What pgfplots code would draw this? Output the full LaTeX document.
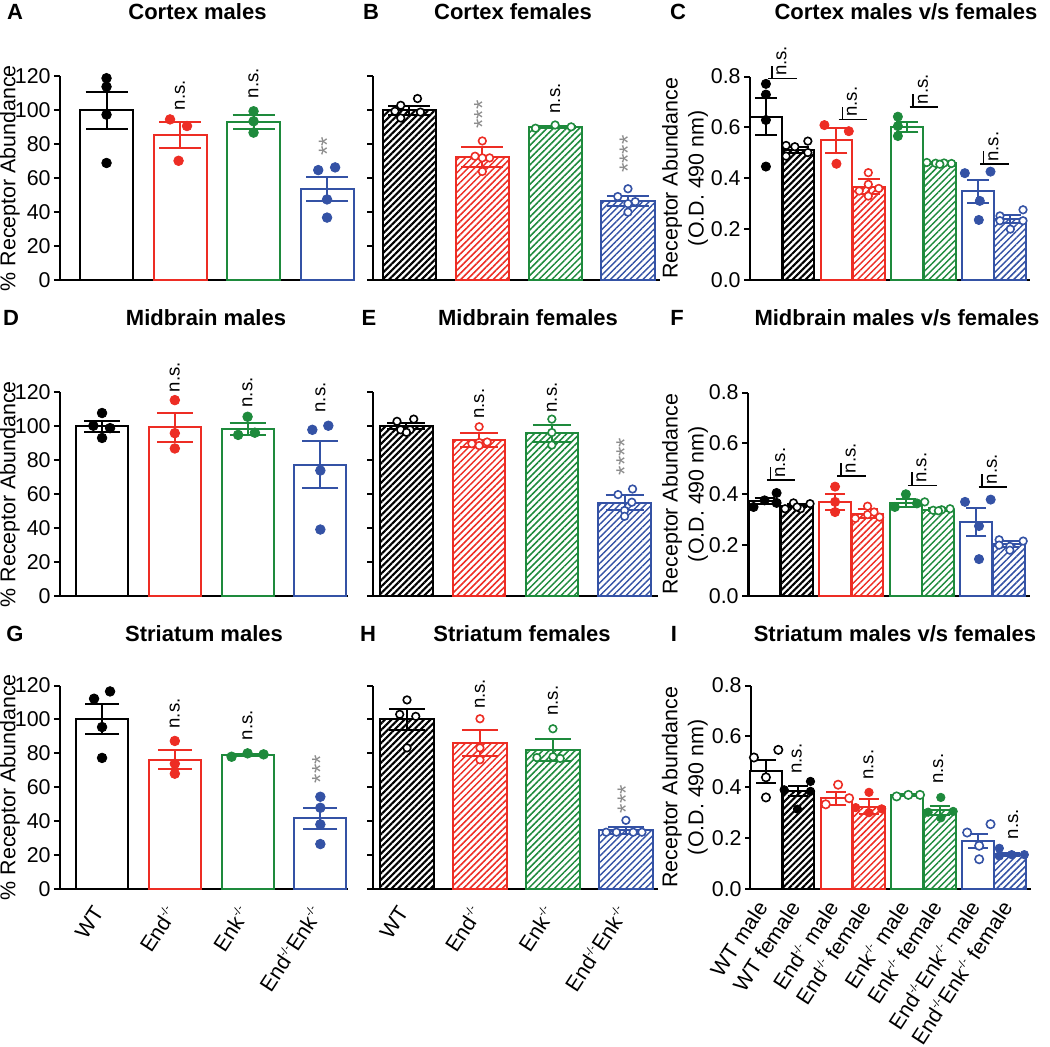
\documentclass[border=0pt]{standalone}
\usepackage{pgfplots}
\pgfplotsset{compat=1.18}
\usepackage{fontspec}
\setmainfont{Liberation Sans}
\usetikzlibrary{patterns.meta}
\definecolor{cred}{RGB}{237,45,36}
\definecolor{cgreen}{RGB}{30,138,60}
\definecolor{cblue}{RGB}{52,82,165}
\definecolor{cgrey}{RGB}{140,140,140}
\newcommand\tf{\fontsize{10.7}{13}\selectfont}
\newcommand\nsf{\fontsize{9.3}{11}\selectfont}
\newcommand\ttl{\fontsize{11}{13}\selectfont\bfseries}
\newcommand\ko{\raisebox{0.75ex}{\fontsize{5.5}{6}\selectfont -/-}}
\tikzset{
 ns/.style={rotate=90, anchor=west, inner sep=0pt, font=\nsf},
 ast/.style={rotate=90, anchor=west, inner sep=0pt, font=\fontsize{12}{14}\selectfont, text=cgrey},
}
\pgfplotsset{
 panel/.style={scale only axis, axis lines=left, axis line style={line width=1pt,-}, clip=false, ymin=0,
   height=101.75pt, anchor=south west, tick align=outside, major tick length=3pt,
   ytick style={line width=1pt,black}, xtick=\empty, xtick style={draw=none},
   tick label style={font=\tf}, yticklabel style={inner sep=1.5pt},
   /pgf/number format/assume math mode=true, label style={font=\tf}},
 pct/.style={panel, ymax=120, ytick={0,20,40,60,80,100,120}},
 pctlab/.style={ylabel={\% Receptor Abundance}, ylabel style={at={(axis description cs:#1,0.5)}, anchor=center}},
 od/.style={panel, ymax=0.8, ytick={0,0.2,0.4,0.6,0.8},
   yticklabel style={/pgf/number format/.cd, fixed, fixed zerofill, precision=1},
   ylabel={Receptor Abundance\\(O.D. 490 nm)},
   ylabel style={at={(axis description cs:#1,0.5)}, anchor=center, align=center}},
 mbar/.style={ybar, bar shift=0pt, draw=#1, fill=white, line width=1pt, forget plot},
 fbar/.style={ybar, bar shift=0pt, draw=#1, line width=1pt, pattern={Lines[angle=45,distance=2.3pt,line width=0.75pt]}, pattern color=#1, forget plot},
 kbar/.style={ybar, bar shift=0pt, draw=black, line width=1pt, pattern={Lines[angle=45,distance=2.3pt,line width=1.05pt]}, pattern color=black, forget plot},
 errb/.style 2 args={draw=none, mark=none, forget plot, error bars/.cd, y dir=both, y explicit,
   error bar style={draw=#1, line width=1pt, solid}, error mark options={draw=#1, rotate=90, mark size=#2, line width=1pt}},
 fpt/.style 2 args={only marks, mark=*, mark size=#2, color=#1, forget plot},
 opt/.style 2 args={only marks, mark=*, mark size=#2, mark options={draw=#1, fill=white, line width=0.8pt}, forget plot},
}
\begin{document}
\begin{tikzpicture}
\useasboundingbox (0,0) rectangle (525pt,523pt);

% ---------------- A ----------------
\begin{axis}[pct, pctlab=-0.17, at={(30pt,383pt)}, width=147.5pt, xmin=-0.633, xmax=3.38, bar width=0.72]
\addplot[mbar=black] coordinates {(0,100)};
\addplot[mbar=cred] coordinates {(1,85.3)};
\addplot[mbar=cgreen] coordinates {(2,93)};
\addplot[mbar=cblue] coordinates {(3,53.6)};
\addplot[errb={black}{10.5pt}] coordinates {(0,100) +- (0,11)};
\addplot[errb={cred}{10.5pt}] coordinates {(1,85.3) +- (0,7.7)};
\addplot[errb={cgreen}{10.5pt}] coordinates {(2,93) +- (0,4)};
\addplot[errb={cblue}{10.5pt}] coordinates {(3,53.6) +- (0,7)};
\addplot[fpt={black}{2.4pt}] coordinates {(0,119) (0,114) (0,97.5) (0,69)};
\addplot[fpt={cred}{2.4pt}] coordinates {(0.864,94.7) (1.095,90.8) (0.98,70.3)};
\addplot[fpt={cgreen}{2.4pt}] coordinates {(2,99.5) (2,93.6) (2,86.9)};
\addplot[fpt={cblue}{2.4pt}] coordinates {(2.88,64.8) (3.11,66.4) (3,47.5) (3,36.8)};
\node[ns] at (axis cs:1,100) {n.s.};
\node[ns] at (axis cs:2,107) {n.s.};
\node[ast] at (axis cs:3,73) {**};
\end{axis}

% ---------------- B ----------------
\begin{axis}[pct, at={(186.65pt,383pt)}, width=143.35pt, xmin=-0.497, xmax=3.44, bar width=0.73, yticklabels={}]
\addplot[kbar] coordinates {(0,100)};
\addplot[fbar=cred] coordinates {(1,72.6)};
\addplot[fbar=cgreen] coordinates {(2,90)};
\addplot[fbar=cblue] coordinates {(3,46.6)};
\addplot[errb={black}{10.5pt}] coordinates {(0,100) +- (0,2.5)};
\addplot[errb={cred}{10.5pt}] coordinates {(1,72.6) +- (0,6)};
\addplot[errb={cgreen}{10.5pt}] coordinates {(2,90) +- (0,0.6)};
\addplot[errb={cblue}{10.5pt}] coordinates {(3,46.6) +- (0,3)};
\addplot[opt={black}{1.9pt}] coordinates {(-0.12,103) (0.11,107) (-0.2,99.5) (0.15,99) (-0.12,95.5)};
\addplot[opt={cred}{1.9pt}] coordinates {(1,82) (0.9,73) (1.1,72) (1,72) (1,64)};
\addplot[opt={cgreen}{1.9pt}] coordinates {(1.73,89.5) (2,91.4) (2.22,90.3)};
\addplot[opt={cblue}{1.9pt}] coordinates {(3,53.8) (2.86,49.2) (3.1,46.2) (3,45) (3,40)};
\node[ast] at (axis cs:1,89) {***};
\node[ns] at (axis cs:2,98) {n.s.};
\node[ast] at (axis cs:3,63) {****};
\end{axis}

% ---------------- C ----------------
\begin{axis}[od=-0.232, at={(375pt,383pt)}, width=140pt, xmin=-0.49, xmax=8.125, bar width=0.98]
\addplot[mbar=black] coordinates {(0,0.642)};
\addplot[kbar] coordinates {(1,0.511)};
\addplot[mbar=cred] coordinates {(2.17,0.55)};
\addplot[fbar=cred] coordinates {(3.17,0.367)};
\addplot[mbar=cgreen] coordinates {(4.35,0.603)};
\addplot[fbar=cgreen] coordinates {(5.35,0.459)};
\addplot[mbar=cblue] coordinates {(6.52,0.348)};
\addplot[fbar=cblue] coordinates {(7.52,0.24)};
\addplot[errb={black}{5.5pt}] coordinates {(0,0.642) +- (0,0.072) (1,0.511) +- (0,0.012)};
\addplot[errb={cred}{5.5pt}] coordinates {(2.17,0.55) +- (0,0.049) (3.17,0.367) +- (0,0.029)};
\addplot[errb={cgreen}{5.5pt}] coordinates {(4.35,0.603) +- (0,0.02) (5.35,0.459) +- (0,0.003)};
\addplot[errb={cblue}{5.5pt}] coordinates {(6.52,0.348) +- (0,0.045) (7.52,0.24) +- (0,0.014)};
\addplot[fpt={black}{2.3pt}] coordinates {(0,0.771) (0,0.729) (0,0.629) (0,0.446)};
\addplot[fpt={cred}{2.3pt}] coordinates {(1.8,0.609) (2.55,0.585) (2.17,0.457)};
\addplot[fpt={cgreen}{2.3pt}] coordinates {(4.06,0.642) (4.06,0.605) (4.06,0.566)};
\addplot[fpt={cblue}{2.3pt}] coordinates {(6.12,0.42) (6.91,0.426) (6.58,0.311) (6.55,0.236)};
\addplot[opt={black}{1.9pt}] coordinates {(0.62,0.529) (0.89,0.524) (1.29,0.546) (0.62,0.487) (1.29,0.501)};
\addplot[opt={cred}{1.9pt}] coordinates {(3.15,0.422) (3.15,0.376) (3.15,0.33) (3.47,0.36) (2.87,0.35)};
\addplot[opt={cgreen}{1.9pt}] coordinates {(4.95,0.462) (5.22,0.459) (5.48,0.46) (5.71,0.458) (5.35,0.455)};
\addplot[opt={cblue}{1.9pt}] coordinates {(7.2,0.252) (7.91,0.276) (7.2,0.233) (7.91,0.233) (7.52,0.2)};
\draw[line width=0.8pt] (axis cs:0.07,0.792) -- (axis cs:0.95,0.792) (axis cs:0.18,0.792) -- (axis cs:0.18,0.843);
\node[ns] at (axis cs:0.48,0.801) {n.s.};
\draw[line width=0.8pt] (axis cs:2.24,0.631) -- (axis cs:3.12,0.631) (axis cs:2.35,0.631) -- (axis cs:2.35,0.682);
\node[ns] at (axis cs:2.65,0.640) {n.s.};
\draw[line width=0.8pt] (axis cs:4.42,0.681) -- (axis cs:5.30,0.681) (axis cs:4.53,0.681) -- (axis cs:4.53,0.732);
\node[ns] at (axis cs:4.83,0.690) {n.s.};
\draw[line width=0.8pt] (axis cs:6.59,0.455) -- (axis cs:7.47,0.455) (axis cs:6.70,0.455) -- (axis cs:6.70,0.506);
\node[ns] at (axis cs:7.0,0.464) {n.s.};
\end{axis}

% ---------------- D ----------------
\begin{axis}[pct, pctlab=-0.174, at={(30pt,225pt)}, width=144pt, xmin=-0.578, xmax=3.38, bar width=0.715]
\addplot[mbar=black] coordinates {(0,100)};
\addplot[mbar=cred] coordinates {(1,99.5)};
\addplot[mbar=cgreen] coordinates {(2,98.5)};
\addplot[mbar=cblue] coordinates {(3,77.5)};
\addplot[errb={black}{9pt}] coordinates {(0,100) +- (0,3)};
\addplot[errb={cred}{9pt}] coordinates {(1,99.5) +- (0,8.5)};
\addplot[errb={cgreen}{9pt}] coordinates {(2,98.5) +- (0,3.5)};
\addplot[errb={cblue}{9pt}] coordinates {(3,77.5) +- (0,14)};
\addplot[fpt={black}{2.4pt}] coordinates {(0,107.9) (-0.12,100.4) (0.11,99) (0,93.2)};
\addplot[fpt={cred}{2.4pt}] coordinates {(1,115.5) (1,96) (1,87)};
\addplot[fpt={cgreen}{2.4pt}] coordinates {(2,105.7) (1.87,95) (2.1,96.3)};
\addplot[fpt={cblue}{2.4pt}] coordinates {(2.89,98) (3.11,100.4) (3,74) (3,39.2)};
\node[ns] at (axis cs:1,120) {n.s.};
\node[ns] at (axis cs:2,111) {n.s.};
\node[ns] at (axis cs:3,108) {n.s.};
\end{axis}

% ---------------- E ----------------
\begin{axis}[pct, at={(186.5pt,225pt)}, width=142.5pt, xmin=-0.46, xmax=3.46, bar width=0.72, yticklabels={}]
\addplot[kbar] coordinates {(0,100)};
\addplot[fbar=cred] coordinates {(1,92)};
\addplot[fbar=cgreen] coordinates {(2,96.1)};
\addplot[fbar=cblue] coordinates {(3,55.1)};
\addplot[errb={black}{9.5pt}] coordinates {(0,100) +- (0,1.8)};
\addplot[errb={cred}{9.5pt}] coordinates {(1,92) +- (0,4)};
\addplot[errb={cgreen}{9.5pt}] coordinates {(2,96.1) +- (0,5)};
\addplot[errb={cblue}{9.5pt}] coordinates {(3,55.1) +- (0,4.5)};
\addplot[opt={black}{1.9pt}] coordinates {(-0.13,103) (0.1,104.3) (-0.08,98) (0.05,98) (0,96.5)};
\addplot[opt={cred}{1.9pt}] coordinates {(1,99.8) (0.9,89.8) (1.11,90.8) (1,90.5) (1,88.7)};
\addplot[opt={cgreen}{1.9pt}] coordinates {(2,104.3) (2,96.4) (2,89)};
\addplot[opt={cblue}{1.9pt}] coordinates {(3.11,63.1) (2.91,59.8) (3.1,55.3) (3,50.4) (3,47)};
\node[ns] at (axis cs:1,104.4) {n.s.};
\node[ns] at (axis cs:2,108) {n.s.};
\node[ast] at (axis cs:3,71) {****};
\end{axis}

% ---------------- F ----------------
\begin{axis}[od=-0.223, at={(374pt,225pt)}, width=141pt, xmin=-0.51, xmax=8.17, bar width=0.98]
\addplot[mbar=black] coordinates {(0,0.374)};
\addplot[kbar] coordinates {(1,0.354)};
\addplot[mbar=cred] coordinates {(2.17,0.37)};
\addplot[fbar=cred] coordinates {(3.17,0.324)};
\addplot[mbar=cgreen] coordinates {(4.35,0.364)};
\addplot[fbar=cgreen] coordinates {(5.35,0.34)};
\addplot[mbar=cblue] coordinates {(6.52,0.289)};
\addplot[fbar=cblue] coordinates {(7.52,0.203)};
\addplot[errb={black}{5pt}] coordinates {(0,0.374) +- (0,0.012) (1,0.354) +- (0,0.006)};
\addplot[errb={cred}{5pt}] coordinates {(2.17,0.37) +- (0,0.032) (3.17,0.324) +- (0,0.019)};
\addplot[errb={cgreen}{5pt}] coordinates {(4.35,0.364) +- (0,0.016) (5.35,0.34) +- (0,0.006)};
\addplot[errb={cblue}{5pt}] coordinates {(6.52,0.289) +- (0,0.055) (7.52,0.203) +- (0,0.012)};
\addplot[fpt={black}{2.3pt}] coordinates {(-0.34,0.35) (0,0.376) (0.37,0.405) (0.37,0.366)};
\addplot[fpt={cred}{2.3pt}] coordinates {(2.17,0.43) (2.17,0.37) (2.17,0.33)};
\addplot[fpt={cgreen}{2.3pt}] coordinates {(4.01,0.35) (4.35,0.4) (4.69,0.364)};
\addplot[fpt={cblue}{2.3pt}] coordinates {(6.17,0.37) (6.96,0.379) (6.6,0.275) (6.6,0.145)};
\addplot[opt={black}{1.9pt}] coordinates {(0.89,0.366) (0.63,0.343) (1.11,0.343) (1.4,0.363) (1,0.35)};
\addplot[opt={cred}{1.9pt}] coordinates {(3.17,0.353) (2.79,0.305) (3.54,0.31) (3.17,0.32) (3.37,0.33)};
\addplot[opt={cgreen}{1.9pt}] coordinates {(4.93,0.37) (5.45,0.339) (5.71,0.343) (5.19,0.337) (5.35,0.335)};
\addplot[opt={cblue}{1.9pt}] coordinates {(7.22,0.221) (7.96,0.216) (7.22,0.2) (7.55,0.195) (7.55,0.18)};
\draw[line width=0.8pt] (axis cs:0.07,0.455) -- (axis cs:0.95,0.455) (axis cs:0.18,0.455) -- (axis cs:0.18,0.506);
\node[ns] at (axis cs:0.48,0.464) {n.s.};
\draw[line width=0.8pt] (axis cs:2.24,0.472) -- (axis cs:3.12,0.472) (axis cs:2.35,0.472) -- (axis cs:2.35,0.523);
\node[ns] at (axis cs:2.65,0.481) {n.s.};
\draw[line width=0.8pt] (axis cs:4.42,0.435) -- (axis cs:5.30,0.435) (axis cs:4.53,0.435) -- (axis cs:4.53,0.486);
\node[ns] at (axis cs:4.83,0.444) {n.s.};
\draw[line width=0.8pt] (axis cs:6.59,0.429) -- (axis cs:7.47,0.429) (axis cs:6.70,0.429) -- (axis cs:6.70,0.48);
\node[ns] at (axis cs:7.0,0.438) {n.s.};
\end{axis}

% ---------------- G ----------------
\begin{axis}[pct, pctlab=-0.174, at={(30pt,78.5pt)}, width=144pt, xmin=-0.578, xmax=3.38, bar width=0.715,
  xtick={0,1,2,3}, xticklabels={WT,End\ko,Enk\ko,End\ko Enk\ko},
  xticklabel style={rotate=57, anchor=east}, xticklabel shift=4pt]
\addplot[mbar=black] coordinates {(0,100)};
\addplot[mbar=cred] coordinates {(1,76.3)};
\addplot[mbar=cgreen] coordinates {(2,78.8)};
\addplot[mbar=cblue] coordinates {(3,41.6)};
\addplot[errb={black}{8.5pt}] coordinates {(0,100) +- (0,8.8)};
\addplot[errb={cred}{8.5pt}] coordinates {(1,76.3) +- (0,5.6)};
\addplot[errb={cgreen}{8.5pt}] coordinates {(2,78.8) +- (0,0.6)};
\addplot[errb={cblue}{8.5pt}] coordinates {(3,41.6) +- (0,6)};
\addplot[fpt={black}{2.4pt}] coordinates {(-0.11,112.2) (0.11,116.5) (0,95.5) (0,77.3)};
\addplot[fpt={cred}{2.4pt}] coordinates {(1,87.3) (1,73.9) (1,68)};
\addplot[fpt={cgreen}{2.4pt}] coordinates {(1.78,78) (2,80) (2.22,79.4)};
\addplot[fpt={cblue}{2.4pt}] coordinates {(3,54.4) (3,47.9) (3,38.1) (3,26.5)};
\node[ns] at (axis cs:1,94.5) {n.s.};
\node[ns] at (axis cs:2,87.6) {n.s.};
\node[ast] at (axis cs:3,62.2) {***};
\end{axis}

% ---------------- H ----------------
\begin{axis}[pct, at={(186.5pt,78.5pt)}, width=142.5pt, xmin=-0.466, xmax=3.44, bar width=0.73, yticklabels={},
  xtick={0,1,2,3}, xticklabels={WT,End\ko,Enk\ko,End\ko Enk\ko},
  xticklabel style={rotate=57, anchor=east}, xticklabel shift=4pt]
\addplot[kbar] coordinates {(0,100)};
\addplot[fbar=cred] coordinates {(1,86.1)};
\addplot[fbar=cgreen] coordinates {(2,82.1)};
\addplot[fbar=cblue] coordinates {(3,34.5)};
\addplot[errb={black}{9pt}] coordinates {(0,100) +- (0,6)};
\addplot[errb={cred}{9pt}] coordinates {(1,86.1) +- (0,7.4)};
\addplot[errb={cgreen}{9pt}] coordinates {(2,82.1) +- (0,6.4)};
\addplot[errb={cblue}{9pt}] coordinates {(3,34.5) +- (0,2)};
\addplot[opt={black}{1.9pt}] coordinates {(0,111.5) (-0.1,103) (0.12,101.8) (0,83.2)};
\addplot[opt={cred}{1.9pt}] coordinates {(1,100.4) (1,83.2) (1,76.2)};
\addplot[opt={cgreen}{1.9pt}] coordinates {(2,94.5) (1.78,77.5) (2,78) (2.1,77)};
\addplot[opt={cblue}{1.9pt}] coordinates {(3,40.5) (2.73,33.5) (2.87,33.5) (3.1,33.5) (3.22,33.5)};
\node[ns] at (axis cs:1,106) {n.s.};
\node[ns] at (axis cs:2,101.9) {n.s.};
\node[ast] at (axis cs:3,44.5) {***};
\end{axis}

% ---------------- I ----------------
\begin{axis}[od=-0.236, at={(375.5pt,78.5pt)}, width=140pt, xmin=-0.46, xmax=8.155, bar width=0.98,
  xtick={0,1,2.17,3.17,4.35,5.35,6.52,7.52},
  xticklabels={WT male,WT female,End\ko{} male,End\ko{} female,Enk\ko{} male,Enk\ko{} female,End\ko Enk\ko{} male,End\ko Enk\ko{} female},
  xticklabel style={rotate=57, anchor=east}, xticklabel shift=1pt]
\addplot[mbar=black] coordinates {(0,0.462)};
\addplot[kbar] coordinates {(1,0.385)};
\addplot[mbar=cred] coordinates {(2.17,0.356)};
\addplot[fbar=cred] coordinates {(3.17,0.324)};
\addplot[mbar=cgreen] coordinates {(4.35,0.37)};
\addplot[fbar=cgreen] coordinates {(5.35,0.31)};
\addplot[mbar=cblue] coordinates {(6.52,0.189)};
\addplot[fbar=cblue] coordinates {(7.52,0.137)};
\addplot[errb={black}{5pt}] coordinates {(0,0.462) +- (0,0.045) (1,0.385) +- (0,0.018)};
\addplot[errb={cred}{5pt}] coordinates {(2.17,0.356) +- (0,0.025) (3.17,0.324) +- (0,0.028)};
\addplot[errb={cgreen}{5pt}] coordinates {(4.35,0.37) +- (0,0.003) (5.35,0.31) +- (0,0.018)};
\addplot[errb={cblue}{5pt}] coordinates {(6.52,0.189) +- (0,0.029) (7.52,0.137) +- (0,0.006)};
\addplot[opt={black}{2.1pt}] coordinates {(-0.37,0.517) (0.38,0.547) (0,0.439) (0,0.36)};
\addplot[opt={cred}{2.1pt}] coordinates {(2.22,0.41) (1.84,0.333) (2.56,0.357)};
\addplot[opt={cgreen}{2.1pt}] coordinates {(4.02,0.364) (4.38,0.37) (4.74,0.37)};
\addplot[opt={cblue}{2.1pt}] coordinates {(6.19,0.222) (6.91,0.255) (6.56,0.17) (6.56,0.117)};
\addplot[fpt={black}{2.1pt}] coordinates {(0.56,0.39) (1.37,0.423) (1.37,0.384) (0.97,0.314)};
\addplot[fpt={cred}{2.1pt}] coordinates {(3.17,0.38) (2.76,0.32) (3.56,0.315) (3.17,0.3)};
\addplot[fpt={cgreen}{2.1pt}] coordinates {(5.38,0.36) (4.99,0.302) (5.76,0.305) (5.38,0.28)};
\addplot[fpt={cblue}{2.1pt}] coordinates {(7.18,0.16) (7.18,0.13) (7.56,0.135) (7.95,0.135)};
\node[ns] at (axis cs:0.95,0.452) {n.s.};
\node[ns] at (axis cs:3.15,0.428) {n.s.};
\node[ns] at (axis cs:5.3,0.413) {n.s.};
\node[ns] at (axis cs:7.61,0.195) {n.s.};
\end{axis}

% ---------------- titles and letters ----------------
\node[font=\ttl] at (98.75pt,517pt) {Cortex males};
\node[font=\ttl] at (256.5pt,517pt) {Cortex females};
\node[font=\ttl] at (453pt,517pt) {Cortex males v/s females};
\node[font=\ttl] at (7.5pt,517pt) {A};
\node[font=\ttl] at (185.5pt,517pt) {B};
\node[font=\ttl] at (339pt,517pt) {C};
\node[font=\ttl] at (103pt,364pt) {Midbrain males};
\node[font=\ttl] at (264pt,364pt) {Midbrain females};
\node[font=\ttl] at (448.5pt,364pt) {Midbrain males v/s females};
\node[font=\ttl] at (5.5pt,364pt) {D};
\node[font=\ttl] at (184.5pt,364pt) {E};
\node[font=\ttl] at (338.5pt,364pt) {F};
\node[font=\ttl] at (102pt,206pt) {Striatum males};
\node[font=\ttl] at (261pt,206pt) {Striatum females};
\node[font=\ttl] at (447.5pt,206pt) {Striatum males v/s females};
\node[font=\ttl] at (7.5pt,206pt) {G};
\node[font=\ttl] at (184pt,206pt) {H};
\node[font=\ttl] at (337pt,206pt) {I};
\end{tikzpicture}
\end{document}
